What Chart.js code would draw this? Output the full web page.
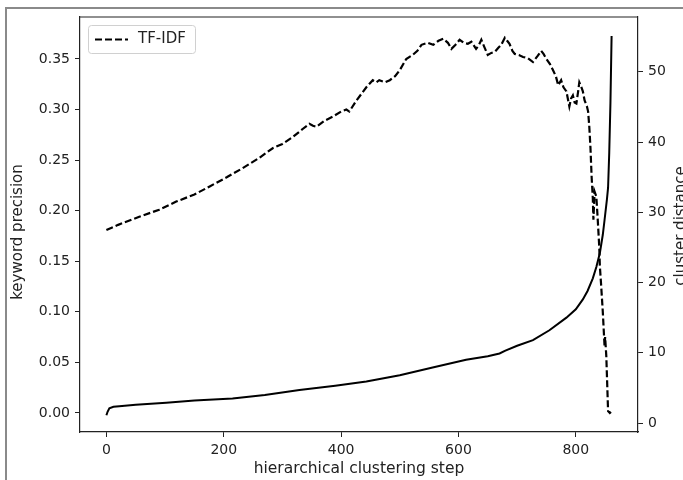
<!DOCTYPE html>
<html>
<head>
<meta charset="utf-8">
<script src="https://cdn.jsdelivr.net/npm/chart.js@4"></script>
<style>
  html, body { margin: 0; padding: 0; background: #fff; }
  #wrap { position: relative; width: 683px; height: 480px; overflow: hidden; }
  #frame { position: absolute; left: 5px; top: 7px; right: -4px; bottom: -4px;
           border-left: 2px solid #8a8a8a; border-top: 2px solid #8a8a8a; }
  canvas { position: absolute; left: 0; top: 0; }
</style>
</head>
<body>
<div id="wrap">
  <div id="frame"></div>
  <canvas id="grafica" width="683" height="480"></canvas>
</div>
<script>
// TF-IDF keyword precision (left axis)
const tfidfSteps = [0, 20, 56, 90, 119, 150, 176, 205, 232, 260, 284, 300, 318, 335, 346, 352, 358, 372, 386, 400,
  409, 414, 425, 443, 454, 460, 465, 475, 483, 492, 500, 511, 522, 530, 537, 548, 557, 566, 574, 582,
  588, 595, 602, 609, 616, 622, 630, 635, 639, 644, 650, 656, 662, 668, 673, 679, 683, 687, 692, 696,
  703, 710, 718, 727, 735, 741, 745, 750, 756, 761, 766, 770, 775, 779, 784, 789, 792, 795, 798, 801,
  804, 806, 809, 812, 815, 819, 821, 823, 825, 827, 829, 830, 832, 835, 837, 840, 841, 843, 846, 849,
  850, 852, 854, 855, 858, 860];
const tfidfValues = [0.181, 0.186, 0.194, 0.201, 0.209, 0.216, 0.224, 0.233, 0.242, 0.252, 0.262, 0.266, 0.273, 0.281, 0.286, 0.284, 0.283, 0.289, 0.293, 0.298,
  0.300, 0.298, 0.308, 0.322, 0.329, 0.327, 0.329, 0.327, 0.329, 0.333, 0.339, 0.350, 0.354, 0.358, 0.364, 0.366, 0.364, 0.368, 0.370, 0.366,
  0.360, 0.364, 0.369, 0.366, 0.365, 0.367, 0.360, 0.364, 0.369, 0.362, 0.354, 0.356, 0.357, 0.361, 0.364, 0.371, 0.368, 0.365, 0.358, 0.355,
  0.354, 0.352, 0.351, 0.347, 0.353, 0.358, 0.355, 0.350, 0.345, 0.339, 0.333, 0.324, 0.329, 0.322, 0.318, 0.303, 0.311, 0.314, 0.307, 0.306,
  0.318, 0.327, 0.323, 0.318, 0.309, 0.303, 0.298, 0.283, 0.262, 0.233, 0.212, 0.191, 0.219, 0.214, 0.195, 0.164, 0.145, 0.128, 0.100, 0.066,
  0.075, 0.056, 0.020, 0.002, 0.000, 0.001];

// cluster distance (right axis)
const distSteps = [0, 2, 5, 12, 22, 50, 102, 150, 215, 270, 329, 390, 443, 500, 556, 613, 650, 670, 680, 700,
  727, 755, 784, 800, 812, 820, 829, 835, 841, 846, 849, 853, 855, 857, 859, 861];
const distValues = [1.1, 1.6, 2.1, 2.3, 2.4, 2.6, 2.9, 3.2, 3.5, 4.0, 4.7, 5.3, 5.9, 6.8, 7.9, 9.0, 9.5, 9.9, 10.3, 11.0,
  11.8, 13.2, 15.0, 16.2, 17.6, 18.8, 20.6, 22.2, 24.2, 26.8, 28.9, 31.8, 33.5, 38.5, 45.5, 55.1];

const xTicks = [0, 200, 400, 600, 800];
const precisionTicks = [0, 0.05, 0.10, 0.15, 0.20, 0.25, 0.30, 0.35];
const distanceTicks = [0, 10, 20, 30, 40, 50];

const fuente = "'DejaVu Sans', sans-serif";
const tinta = '#222';

const toPoints = (xs, ys) => xs.map((x, i) => ({x: x, y: ys[i]}));

// marco superior, leyenda y titulos de los ejes verticales
const decoraciones = {
  id: 'decoraciones',
  afterDraw(chart) {
    const ctx = chart.ctx;
    const area = chart.chartArea;
    ctx.save();
    ctx.strokeStyle = tinta;
    ctx.lineWidth = 1.2;
    ctx.beginPath();
    ctx.moveTo(area.left, area.top);
    ctx.lineTo(area.right, area.top);
    ctx.stroke();

    // leyenda
    ctx.beginPath();
    ctx.roundRect(88.5, 25.5, 107, 28, 3);
    ctx.fillStyle = 'rgba(255,255,255,0.85)';
    ctx.fill();
    ctx.strokeStyle = '#d0d0d0';
    ctx.lineWidth = 1;
    ctx.stroke();
    ctx.beginPath();
    ctx.setLineDash([7, 3]);
    ctx.strokeStyle = '#000';
    ctx.lineWidth = 2;
    ctx.moveTo(95, 39.5);
    ctx.lineTo(128, 39.5);
    ctx.stroke();
    ctx.setLineDash([]);
    ctx.fillStyle = tinta;
    ctx.font = '15px ' + fuente;
    ctx.textAlign = 'left';
    ctx.textBaseline = 'middle';
    ctx.fillText('TF-IDF', 138, 39);

    // titulos verticales, de abajo hacia arriba como matplotlib
    ctx.textAlign = 'center';
    ctx.save();
    ctx.translate(18, 232);
    ctx.rotate(-Math.PI / 2);
    ctx.fillText('keyword precision', 0, 0);
    ctx.restore();

    ctx.translate(681, 226);
    ctx.rotate(-Math.PI / 2);
    ctx.fillText('cluster distance', 0, 0);
    ctx.restore();
  }
};

const ejeBase = {
  grid: { display: true, drawOnChartArea: false, drawTicks: true, tickLength: 5, color: tinta, lineWidth: 1 },
  border: { display: true, color: tinta, width: 1.2 },
  ticks: { color: tinta, font: { family: fuente, size: 14 }, padding: 5 }
};

new Chart(document.getElementById('grafica'), {
  type: 'line',
  data: {
    datasets: [{
      label: 'TF-IDF',
      data: toPoints(tfidfSteps, tfidfValues),
      yAxisID: 'y',
      borderColor: '#000',
      borderWidth: 2.2,
      borderDash: [7, 3],
      pointRadius: 0,
      tension: 0,
      fill: false
    }, {
      label: 'cluster distance',
      data: toPoints(distSteps, distValues),
      yAxisID: 'y2',
      borderColor: '#000',
      borderWidth: 2,
      pointRadius: 0,
      tension: 0,
      fill: false
    }]
  },
  options: {
    responsive: false,
    animation: false,
    devicePixelRatio: 1,
    layout: { padding: { top: 17, left: 0, right: 0, bottom: 0 } },
    plugins: { legend: { display: false }, tooltip: { enabled: false } },
    scales: {
      x: {
        ...ejeBase,
        type: 'linear',
        min: -45,
        max: 906,
        afterBuildTicks: (scale) => { scale.ticks = xTicks.map(v => ({value: v})); },
        afterFit: (scale) => { scale.height = 48; },
        title: { display: true, text: 'hierarchical clustering step', color: tinta,
                 font: { family: fuente, size: 15.5 }, padding: { top: 0, bottom: 2 } }
      },
      y: {
        ...ejeBase,
        position: 'left',
        min: -0.0188,
        max: 0.3915,
        afterBuildTicks: (scale) => { scale.ticks = precisionTicks.map(v => ({value: v})); },
        afterFit: (scale) => { scale.width = 80; },
        ticks: { ...ejeBase.ticks, callback: (v) => v.toFixed(2) }
      },
      y2: {
        ...ejeBase,
        position: 'right',
        min: -1.28,
        max: 57.8,
        afterBuildTicks: (scale) => { scale.ticks = distanceTicks.map(v => ({value: v})); },
        afterFit: (scale) => { scale.width = 45; }
      }
    }
  },
  plugins: [decoraciones]
});
</script>
</body>
</html>
